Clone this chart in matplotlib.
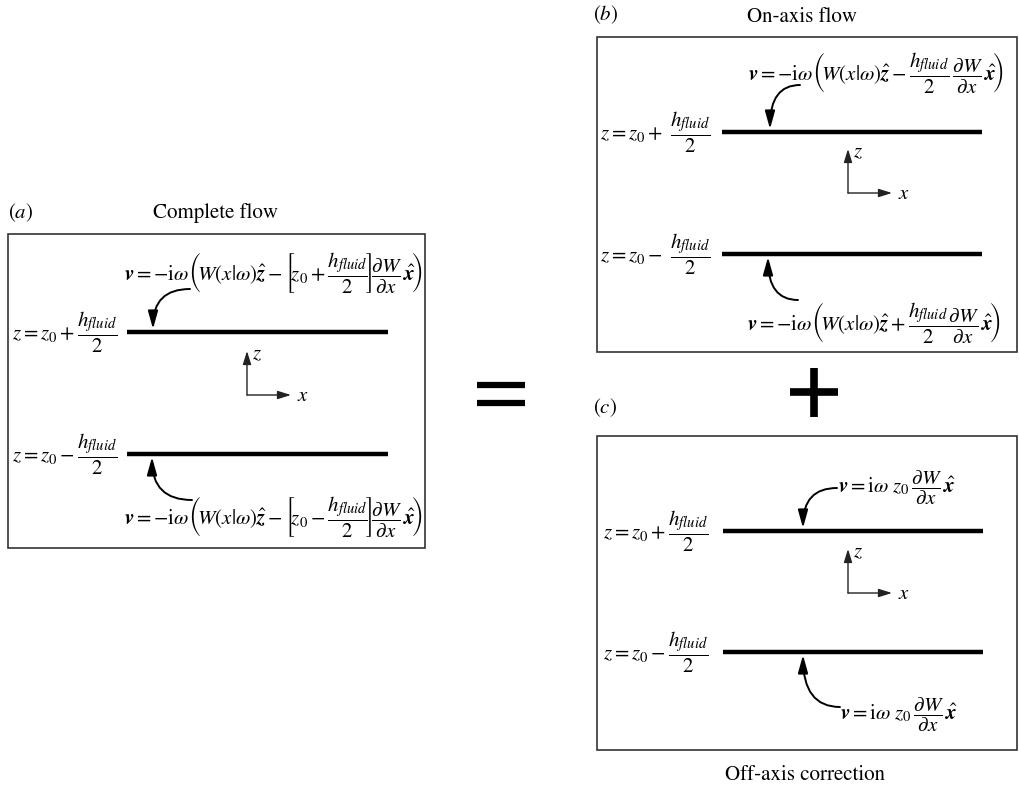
import matplotlib
matplotlib.use("Agg")
import matplotlib.pyplot as plt
from matplotlib.patches import Rectangle

plt.rcParams['mathtext.fontset'] = 'stix'
plt.rcParams['font.family'] = 'STIXGeneral'

# panel layout (pixel coordinates of the reference)
panel_tags = ['($a$)', '($b$)', '($c$)']
panel_titles = ['Complete flow', 'On-axis flow', 'Off-axis correction']
tag_xy = [(8, 213), (593, 15), (593, 408)]
title_xy = [(215, 213), (802, 17), (805, 775)]
box_left = [8, 597, 597]
box_right = [425, 1017, 1017]
box_top = [234, 37, 436]
box_bottom = [548, 352, 750]

plate_x0 = [127, 722, 723]
plate_x1 = [388, 982, 983]
plate_top_y = [332, 132, 531]
plate_bot_y = [454, 254, 652]
label_x = [12, 600, 603]

top_labels = [r'$z = z_0 + \dfrac{h_{fluid}}{2}$',
              r'$z = z_0 +\ \dfrac{h_{fluid}}{2}$',
              r'$z = z_0 + \dfrac{h_{fluid}}{2}$']
bot_labels = [r'$z = z_0 - \dfrac{h_{fluid}}{2}$',
              r'$z = z_0 -\ \dfrac{h_{fluid}}{2}$',
              r'$z = z_0 - \dfrac{h_{fluid}}{2}$']

top_eqs = [r'$\mathbfit{v} = -\mathrm{i}\omega\left(\!W(x|\omega)\hat{\mathbfit{z}} - \left[\!z_0 + \dfrac{h_{fluid}}{2}\!\right]\!\dfrac{\partial W}{\partial x}\,\hat{\mathbfit{x}}\!\right)$',
           r'$\mathbfit{v} = -\mathrm{i}\omega\left(\!W(x|\omega)\hat{\mathbfit{z}} - \dfrac{h_{fluid}}{2}\,\dfrac{\partial W}{\partial x}\,\hat{\mathbfit{x}}\!\right)$',
           r'$\mathbfit{v} = \mathrm{i}\omega\ z_0\,\dfrac{\partial W}{\partial x}\,\hat{\mathbfit{x}}$']
bot_eqs = [r'$\mathbfit{v} = -\mathrm{i}\omega\left(\!W(x|\omega)\hat{\mathbfit{z}} - \left[\!z_0 - \dfrac{h_{fluid}}{2}\!\right]\!\dfrac{\partial W}{\partial x}\,\hat{\mathbfit{x}}\!\right)$',
           r'$\mathbfit{v} = -\mathrm{i}\omega\left(\!W(x|\omega)\hat{\mathbfit{z}} + \dfrac{h_{fluid}}{2}\dfrac{\partial W}{\partial x}\,\hat{\mathbfit{x}}\!\right)$',
           r'$\mathbfit{v} = \mathrm{i}\omega\ z_0\,\dfrac{\partial W}{\partial x}\,\hat{\mathbfit{x}}$']
top_eq_xy = [(124, 273), (748, 73), (838, 488)]
bot_eq_xy = [(124, 517), (747, 323), (840, 715)]

top_arrow_from = [(190, 289), (800, 85), (837, 488)]
top_arrow_to = [(153, 329), (770, 129), (803, 528)]
bot_arrow_from = [(192, 500), (798, 300), (840, 707)]
bot_arrow_to = [(152, 457), (768, 257), (803, 655)]

axis_origin = [(247, 395), (848, 193), (848, 593)]
axis_len = 44

fig = plt.figure(figsize=(10.2, 7.87), dpi=100)
ax = fig.add_axes([0, 0, 1, 1])
ax.set_xlim(0, 1020)
ax.set_ylim(787, 0)
ax.axis('off')

for i in range(3):
    ax.add_patch(Rectangle((box_left[i], box_top[i]), box_right[i] - box_left[i],
                           box_bottom[i] - box_top[i], fill=False, lw=1.2, ec='#333333'))
    ax.text(*tag_xy[i], panel_tags[i], fontsize=15, ha='left', va='center')
    ax.text(*title_xy[i], panel_titles[i], fontsize=15, ha='center', va='center')

    for y in (plate_top_y[i], plate_bot_y[i]):
        ax.plot([plate_x0[i], plate_x1[i]], [y, y], color='black', lw=3.2,
                solid_capstyle='butt')

    ax.text(label_x[i], plate_top_y[i], top_labels[i], fontsize=15, ha='left', va='center')
    ax.text(label_x[i], plate_bot_y[i], bot_labels[i], fontsize=15, ha='left', va='center')

    ax.text(*top_eq_xy[i], top_eqs[i], fontsize=15, ha='left', va='center')
    ax.text(*bot_eq_xy[i], bot_eqs[i], fontsize=15, ha='left', va='center')

    for a, b in ((top_arrow_from[i], top_arrow_to[i]),
                 (bot_arrow_from[i], bot_arrow_to[i])):
        ax.annotate('', xy=b, xytext=a,
                    arrowprops=dict(arrowstyle='-|>,head_length=0.9,head_width=0.25',
                                    connectionstyle='angle3,angleA=180,angleB=90',
                                    color='black', lw=1.4, shrinkA=0, shrinkB=0,
                                    mutation_scale=12))

    ox, oy = axis_origin[i]
    kw = dict(arrowstyle='-|>,head_length=0.8,head_width=0.25', color='#222222',
              lw=1.0, shrinkA=0, shrinkB=0, mutation_scale=10)
    ax.annotate('', xy=(ox, oy - axis_len), xytext=(ox, oy), arrowprops=kw)
    ax.annotate('', xy=(ox + axis_len, oy), xytext=(ox, oy), arrowprops=kw)
    ax.text(ox + 5, oy - axis_len + 3, '$z$', fontsize=15, ha='left', va='center')
    ax.text(ox + axis_len + 6, oy + 1, '$x$', fontsize=15, ha='left', va='center')

# equals and plus signs
for y in (385, 403):
    ax.plot([477, 525], [y, y], color='black', lw=4.5, solid_capstyle='butt')
ax.plot([790, 838], [392, 392], color='black', lw=5.5, solid_capstyle='butt')
ax.plot([814, 814], [368, 417], color='black', lw=5.5, solid_capstyle='butt')

fig.savefig('out.png', dpi=100)
